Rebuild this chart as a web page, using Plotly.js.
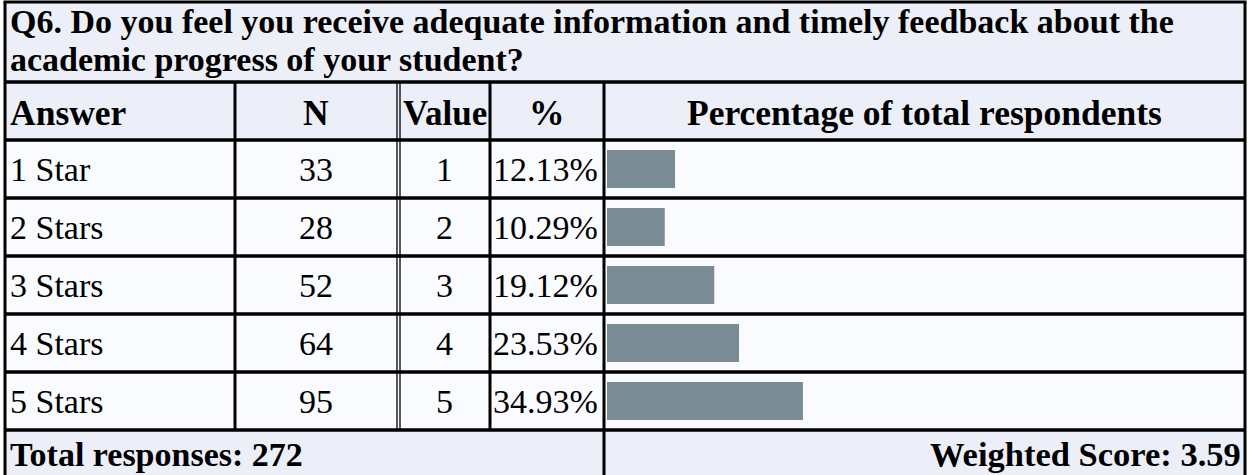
<!DOCTYPE html>
<html>
<head>
<meta charset="utf-8">
<script src="https://cdn.plot.ly/plotly-3.0.1.min.js"></script>
<style>html,body{margin:0;padding:0;background:#fff;}#chart{width:1250px;height:475px;}</style>
</head>
<body>
<div id="chart"></div>
<script>
// ---- data ----
const questionLine1 = "Q6. Do you feel you receive adequate information and timely feedback about the";
const questionLine2 = "academic progress of your student?";
const headers = ["Answer", "N", "Value", "%", "Percentage of total respondents"];
const answers = ["1 Star", "2 Stars", "3 Stars", "4 Stars", "5 Stars"];
const counts = [33, 28, 52, 64, 95];
const values = [1, 2, 3, 4, 5];
const percents = [12.13, 10.29, 19.12, 23.53, 34.93];
const totalResponses = 272;
const weightedScore = 3.59;

// ---- layout helpers (pixel geometry) ----
const W = 1250, H = 475;
const rowCenter0 = 169, rowPitch = 58;
const yv = px => (px - rowCenter0) / rowPitch;
const xp = px => px / W;

const FONT = "Liberation Serif, Times New Roman, serif";
const headBg = "rgb(237,239,248)";
const rowBg = "rgb(249,251,254)";
const barColor = "rgb(123,139,150)";

const xLeft = 5, xRight = 1245, xN = 235, xVal1 = 397, xVal2 = 400, xPct = 490, xBar = 604;
const yTop = 2, yHead = 82, yRows = 140, yFoot = 430, yBottom = 478;

const shapes = [];
function rect(x0, x1, y0, y1, color) {
  shapes.push({type: "rect", xref: "paper", yref: "y", x0: xp(x0), x1: xp(x1), y0: yv(y0), y1: yv(y1),
    fillcolor: color, line: {width: 0}, layer: "below"});
}
function hline(x0, x1, y, w) {
  shapes.push({type: "line", xref: "paper", yref: "y", x0: xp(x0), x1: xp(x1), y0: yv(y), y1: yv(y),
    line: {color: "black", width: w}, layer: "above"});
}
function vline(x, y0, y1, w) {
  shapes.push({type: "line", xref: "paper", yref: "y", x0: xp(x), x1: xp(x), y0: yv(y0), y1: yv(y1),
    line: {color: "black", width: w}, layer: "above"});
}
// backgrounds
rect(xLeft, xRight, yTop, yRows, headBg);
rect(xLeft, xRight, yRows, yFoot, rowBg);
rect(xLeft, xRight, yFoot, yBottom, headBg);
// horizontal borders
hline(xLeft - 1.5, xRight + 1.5, yTop, 3);
hline(xLeft, xRight, yHead, 3.5);
for (let i = 0; i <= answers.length; i++) hline(xLeft, xRight, yRows + i * rowPitch, 3.5);
// vertical borders
vline(xLeft, yTop, yBottom, 3);
vline(xRight, yTop, yBottom, 3);
vline(xN, yHead, yFoot, 3);
vline(xVal1, yHead, yFoot, 1.3);
vline(xVal2, yHead, yFoot, 1.3);
vline(xPct, yHead, yFoot, 3);
vline(xBar, yHead, yBottom, 3);

// annotations
const ann = [];
function txt(text, xpx, ypx, anchor, size, bold) {
  ann.push({text: bold ? "<b>" + text + "</b>" : text, xref: "paper", yref: "y", x: xp(xpx), y: ypx,
    xanchor: anchor, yanchor: "middle", showarrow: false, align: anchor === "center" ? "center" : anchor,
    borderpad: 0, font: {family: FONT, size: size, color: "black"}});
}
txt(questionLine1, 9, yv(21), "left", 34, true);
txt(questionLine2, 9, yv(59), "left", 34, true);
const hy = yv(113);
txt(headers[0], 9, hy, "left", 35.5, true);
txt(headers[1], 316, hy, "center", 35.5, true);
txt(headers[2], 445, hy, "center", 35, true);
txt(headers[3], 547, hy, "center", 35.5, true);
txt(headers[4], 924, hy, "center", 35.5, true);
answers.forEach((a, i) => {
  txt(a, 9, a, "left", 34, false);
  txt(String(counts[i]), 316, a, "center", 34, false);
  txt(String(values[i]), 444, a, "center", 34, false);
  txt(percents[i].toFixed(2) + "%", 599, a, "right", 34, false);
});
txt("Total responses: " + totalResponses, 9, yv(454), "left", 34, true);
txt("Weighted Score: " + weightedScore.toFixed(2), 1242, yv(454), "right", 34.5, true);

const barStart = 607, pxPerPct = 5.61;
const data = [{
  type: "bar", orientation: "h", x: percents, y: answers, width: 38 / rowPitch,
  marker: {color: barColor, line: {width: 0}}, hoverinfo: "none"
}];

const layout = {
  width: W, height: H, margin: {l: 0, r: 0, t: 0, b: 0, pad: 0},
  paper_bgcolor: "white", plot_bgcolor: "rgba(0,0,0,0)", showlegend: false,
  xaxis: {domain: [xp(barStart), xp(xRight)], range: [0, (xRight - barStart) / pxPerPct],
    visible: false, fixedrange: true},
  yaxis: {type: "category", categoryarray: answers, categoryorder: "array",
    range: [yv(H), yv(0)], visible: false, fixedrange: true},
  shapes: shapes, annotations: ann
};
Plotly.newPlot("chart", data, layout, {displayModeBar: false, staticPlot: true});
</script>
</body>
</html>
